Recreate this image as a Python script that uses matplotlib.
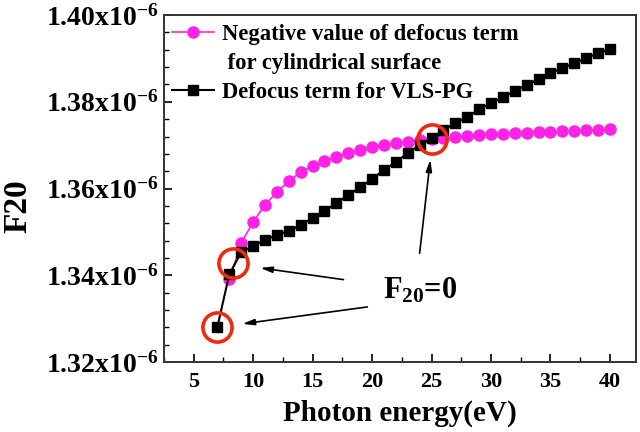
import numpy as np
import matplotlib
matplotlib.use("Agg")
import matplotlib.pyplot as plt
from matplotlib.lines import Line2D
from matplotlib.ticker import MultipleLocator, FuncFormatter

# F20 defocus terms vs photon energy (values in units of 1e-6)

plt.rcParams['font.family'] = 'Liberation Serif'
plt.rcParams['font.weight'] = 'bold'
plt.rcParams['mathtext.fontset'] = 'custom'
plt.rcParams['mathtext.rm'] = 'Liberation Serif:bold'
plt.rcParams['mathtext.it'] = 'Liberation Serif:bold'
plt.rcParams['mathtext.bf'] = 'Liberation Serif:bold'

energy_cyl = np.arange(8, 41)
f20_cyl = [1.3391, 1.3474, 1.3523, 1.3562, 1.3592, 1.3617, 1.3638, 1.3652,
           1.3663, 1.3673, 1.3682, 1.3689, 1.3696, 1.3700, 1.3705, 1.3708,
           1.3712, 1.3715, 1.3717, 1.3720, 1.3721, 1.3723, 1.3725, 1.3725,
           1.3727, 1.3728, 1.3730, 1.3731, 1.3732, 1.3733, 1.3735, 1.3735,
           1.3737]

energy_vls = np.arange(7, 41)
f20_vls = [1.3281, 1.3402, 1.3453, 1.3468, 1.3481, 1.3493, 1.3502, 1.3516,
           1.3532, 1.3548, 1.3567, 1.3585, 1.3603, 1.3622, 1.3643, 1.3661,
           1.3682, 1.3700, 1.3716, 1.3735, 1.3751, 1.3765, 1.3783, 1.3797,
           1.3811, 1.3825, 1.3839, 1.3852, 1.3866, 1.3878, 1.3889, 1.3901,
           1.3912, 1.3922]

# where F20 = 0 (circled points)
zero_points = [(7, 1.3281), (8.3, 1.3428), (25, 1.3714)]
text_pos = (20.9, 1.3347)
arrow_tails = [(17.6, 1.3390), (19.6, 1.3327), (24.0, 1.3451)]
arrow_heads = [(10.6, 1.3417), (9.1, 1.3288), (24.9, 1.3667)]

pink = '#FF22E6'

fig = plt.figure(figsize=(6.4, 4.32), dpi=100)
ax = fig.add_axes([0.256, 0.162, 0.738, 0.803])

l1, = ax.plot(energy_cyl, np.array(f20_cyl) * 1e-6, color=pink, lw=1.2,
              marker='o', ms=8, mec=pink, mfc=pink)
l2, = ax.plot(energy_vls, np.array(f20_vls) * 1e-6, color='black', lw=1.5,
              marker='s', ms=7, mec='black', mfc='black')

zx = [p[0] for p in zero_points]
zy = [p[1] * 1e-6 for p in zero_points]
ax.plot(zx, zy, linestyle='none', marker='o', ms=21, mfc='none',
        mec='#F02A10', mew=2.6, zorder=5)

ax.text(text_pos[0], text_pos[1] * 1e-6, 'F$_{20}$=0', fontsize=22,
        fontweight='bold', ha='left', va='baseline')
for (tx, ty), (hx, hy) in zip(arrow_tails, arrow_heads):
    ax.annotate('', xy=(hx, hy * 1e-6), xytext=(tx, ty * 1e-6),
                arrowprops=dict(arrowstyle='-|>,head_length=0.7,head_width=0.18',
                                color='black', lw=1.2, shrinkA=0, shrinkB=0))

ax.set_xlim(2.5, 42.2)
ax.set_ylim(1.32e-6, 1.40e-6)
ax.xaxis.set_major_locator(MultipleLocator(5))
ax.xaxis.set_minor_locator(MultipleLocator(2.5))
ax.yaxis.set_major_locator(MultipleLocator(0.02e-6))
ax.yaxis.set_minor_locator(MultipleLocator(0.004e-6))
ax.yaxis.set_major_formatter(FuncFormatter(
    lambda v, p: '%.2fx10$^{-6}$' % (v * 1e6)))

ax.tick_params(which='both', direction='in', top=False, right=False)
ax.tick_params(which='major', length=6, width=1.2)
ax.tick_params(which='minor', length=3.5, width=1.0)
ax.tick_params(axis='x', labelsize=16, pad=7)
ax.tick_params(axis='y', labelsize=20, pad=4)
for s in ax.spines.values():
    s.set_linewidth(1.4)
    s.set_color('#333333')

ax.set_xlabel('Photon energy(eV)', fontsize=21, fontweight='bold', labelpad=6)
ax.set_ylabel('F20', fontsize=24, fontweight='bold')
ax.yaxis.set_label_coords(-0.275, 0.45)

blank = Line2D([], [], linestyle='none')
ax.legend([l1, blank, l2],
          ['Negative value of defocus term', ' for cylindrical surface',
           'Defocus term for VLS-PG'],
          loc='upper left', bbox_to_anchor=(0.018, 0.975), frameon=False,
          fontsize=16.3, handlelength=1.86, handletextpad=0.35,
          labelspacing=0.36, borderpad=0, borderaxespad=0)

fig.savefig('out.png', dpi=100)
